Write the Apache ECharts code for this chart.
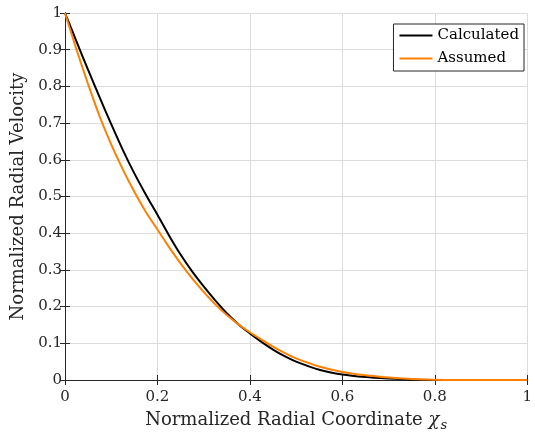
<!DOCTYPE html>
<html>
<head>
<meta charset="utf-8">
<script src="https://cdn.jsdelivr.net/npm/echarts@6/dist/echarts.min.js"></script>
<style>
  html, body { margin: 0; padding: 0; background: #ffffff; }
  #chart { width: 535px; height: 437px; }
</style>
</head>
<body>
<div id="chart"></div>
<script>
// Radial velocity profiles, normalized, sampled along the radial coordinate
const xCoord = [0, 0.025, 0.05, 0.075, 0.1, 0.125, 0.15, 0.175, 0.2, 0.225, 0.25, 0.275, 0.3, 0.325, 0.35, 0.375, 0.4, 0.425, 0.45, 0.475, 0.5, 0.55, 0.6, 0.65, 0.7, 0.75, 0.8, 0.85, 0.9, 0.95, 1.0];
const yCalculated = [1.0, 0.922, 0.845, 0.77, 0.697, 0.627, 0.563, 0.505, 0.45, 0.394, 0.342, 0.296, 0.255, 0.217, 0.182, 0.152, 0.127, 0.104, 0.083, 0.065, 0.05, 0.028, 0.015, 0.008, 0.004, 0.0012, 0, 0, 0, 0, 0];
const yAssumed = [1.0, 0.9, 0.806, 0.718, 0.642, 0.574, 0.513, 0.458, 0.41, 0.362, 0.318, 0.277, 0.24, 0.206, 0.177, 0.152, 0.13, 0.11, 0.091, 0.074, 0.059, 0.037, 0.022, 0.013, 0.007, 0.003, 0.0005, 0, 0, 0, 0];

const xTicks = [0, 0.2, 0.4, 0.6, 0.8, 1];
const yTicks = [0, 0.1, 0.2, 0.3, 0.4, 0.5, 0.6, 0.7, 0.8, 0.9, 1];

const seriesNames = ['Calculated', 'Assumed'];

const FONT = '"DejaVu Serif", "Liberation Serif", serif';
const AXIS_COLOR = '#262626';
const GRID_COLOR = '#dcdcdc';

const zip = (xs, ys) => xs.map((x, i) => [x, ys[i]]);
const fmt = v => String(+(+v).toFixed(1));

const mainAxisCommon = {
  type: 'value',
  axisLine: { show: true, lineStyle: { color: AXIS_COLOR, width: 1 } },
  axisTick: { show: true, inside: true, length: 5, lineStyle: { color: AXIS_COLOR } },
  splitLine: { show: true, lineStyle: { color: GRID_COLOR, width: 1 } },
  axisLabel: { fontFamily: FONT, fontSize: 15, color: AXIS_COLOR, formatter: fmt },
  nameLocation: 'middle',
  nameTextStyle: { fontFamily: FONT, fontSize: 18, color: AXIS_COLOR }
};

// top and right edges of the box, ticks only
const boxAxisCommon = {
  type: 'value',
  axisLine: { show: true, lineStyle: { color: AXIS_COLOR, width: 1 } },
  axisTick: { show: true, inside: true, length: 5, lineStyle: { color: AXIS_COLOR } },
  splitLine: { show: false },
  axisLabel: { show: false }
};

const chart = echarts.init(document.getElementById('chart'), null, { renderer: 'canvas' });

chart.setOption({
  animation: false,
  backgroundColor: '#ffffff',
  grid: { left: 65, right: 1, top: 13, bottom: 57, containLabel: false },
  xAxis: [
    Object.assign({}, mainAxisCommon, {
      position: 'bottom',
      min: xTicks[0], max: xTicks[xTicks.length - 1], interval: 0.2,
      axisLabel: Object.assign({}, mainAxisCommon.axisLabel, { margin: 10 }),
      name: '{t|Normalized Radial Coordinate }{chi|χ}{sub|s}',
      nameGap: 29,
      nameTextStyle: {
        fontFamily: FONT, fontSize: 18, color: AXIS_COLOR,
        rich: {
          t: { fontFamily: FONT, fontSize: 18, color: AXIS_COLOR },
          chi: { fontFamily: FONT, fontSize: 18, fontStyle: 'italic', color: AXIS_COLOR },
          sub: { fontFamily: FONT, fontSize: 13, fontStyle: 'italic', color: AXIS_COLOR, padding: [10, 0, 0, 1] }
        }
      }
    }),
    Object.assign({}, boxAxisCommon, {
      position: 'top',
      min: xTicks[0], max: xTicks[xTicks.length - 1], interval: 0.2
    })
  ],
  yAxis: [
    Object.assign({}, mainAxisCommon, {
      position: 'left',
      min: yTicks[0], max: yTicks[yTicks.length - 1], interval: 0.1,
      axisLabel: Object.assign({}, mainAxisCommon.axisLabel, { margin: 3 }),
      name: 'Normalized Radial Velocity',
      nameGap: 27
    }),
    Object.assign({}, boxAxisCommon, {
      position: 'right',
      min: yTicks[0], max: yTicks[yTicks.length - 1], interval: 0.1
    })
  ],
  legend: {
    orient: 'vertical',
    right: 11,
    top: 24,
    data: seriesNames,
    icon: 'rect',
    itemWidth: 33,
    itemHeight: 2,
    itemGap: 8,
    padding: [4, 5, 5, 6],
    borderColor: AXIS_COLOR,
    borderWidth: 1,
    borderRadius: 0,
    backgroundColor: '#ffffff',
    textStyle: { fontFamily: FONT, fontSize: 15, color: '#000000' }
  },
  series: [
    {
      name: seriesNames[0],
      type: 'line',
      data: zip(xCoord, yCalculated),
      smooth: 0.3,
      showSymbol: false,
      symbol: 'none',
      color: '#000000',
      lineStyle: { color: '#000000', width: 2 },
      z: 3
    },
    {
      name: seriesNames[1],
      type: 'line',
      data: zip(xCoord, yAssumed),
      smooth: 0.3,
      showSymbol: false,
      symbol: 'none',
      color: '#ff8000',
      lineStyle: { color: '#ff8000', width: 2 },
      z: 4
    }
  ]
});
</script>
</body>
</html>
